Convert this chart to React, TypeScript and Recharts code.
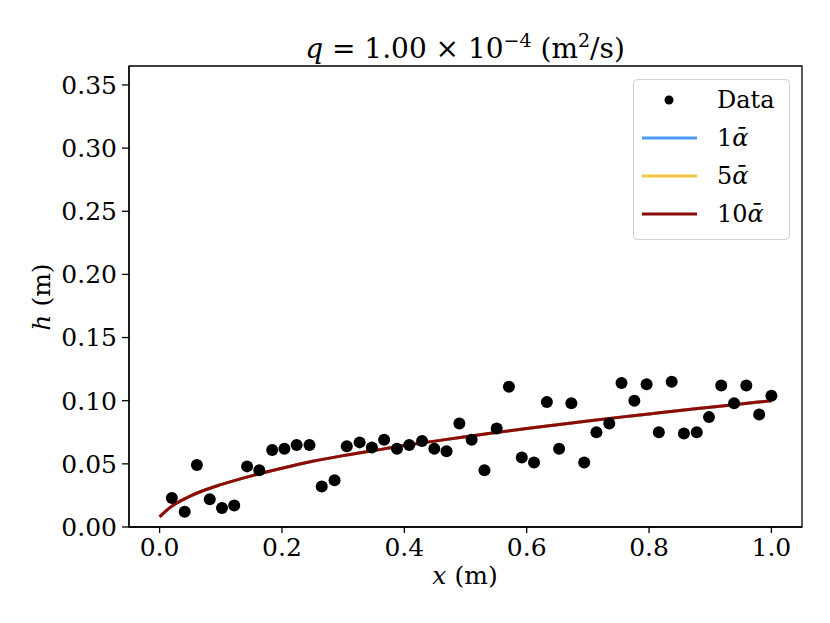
import {
  ComposedChart,
  Scatter,
  Line,
  XAxis,
  YAxis,
  ReferenceArea,
} from 'recharts';

const dataX = [
  0.02, 0.041, 0.061, 0.082, 0.102, 0.122, 0.143, 0.163, 0.184, 0.204,
  0.224, 0.245, 0.265, 0.286, 0.306, 0.327, 0.347, 0.367, 0.388, 0.408,
  0.429, 0.449, 0.469, 0.49, 0.51, 0.531, 0.551, 0.571, 0.592, 0.612,
  0.633, 0.653, 0.673, 0.694, 0.714, 0.735, 0.755, 0.776, 0.796, 0.816,
  0.837, 0.857, 0.878, 0.898, 0.918, 0.939, 0.959, 0.98, 1.0,
];
const dataH = [
  0.023, 0.012, 0.049, 0.022, 0.015, 0.017, 0.048, 0.045, 0.061, 0.062,
  0.065, 0.065, 0.032, 0.037, 0.064, 0.067, 0.063, 0.069, 0.062, 0.065,
  0.068, 0.062, 0.06, 0.082, 0.069, 0.045, 0.078, 0.111, 0.055, 0.051,
  0.099, 0.062, 0.098, 0.051, 0.075, 0.082, 0.114, 0.1, 0.113, 0.075,
  0.115, 0.074, 0.075, 0.087, 0.112, 0.098, 0.112, 0.089, 0.104,
];

const modelX = [
  0, 0.01, 0.02, 0.03, 0.05, 0.075, 0.1, 0.15, 0.2, 0.25, 0.3, 0.35, 0.4,
  0.45, 0.5, 0.55, 0.6, 0.65, 0.7, 0.75, 0.8, 0.85, 0.9, 0.95, 1.0,
];
const model1 = [
  0.008, 0.0125, 0.0165, 0.0195, 0.0245, 0.0295, 0.0335, 0.0405, 0.0465, 0.052,
  0.0565, 0.0605, 0.0645, 0.068, 0.0715, 0.0748, 0.078, 0.081, 0.084, 0.0868,
  0.0895, 0.0922, 0.0948, 0.0974, 0.1,
];
const model5 = model1;
const model10 = model1;

const xTicks = [0, 0.2, 0.4, 0.6, 0.8, 1.0];
const yTicks = [0, 0.05, 0.1, 0.15, 0.2, 0.25, 0.3, 0.35];

const points = dataX.map((x, i) => ({ x, h: dataH[i] }));
const curves = modelX.map((x, i) => ({
  x,
  h1: model1[i],
  h5: model5[i],
  h10: model10[i],
}));

const FONT = "'DejaVu Serif', serif";
const BLUE = '#4c9bf5';
const YELLOW = '#f2c744';
const RED = '#8b0a0a';

const Dot = (props: any) => <circle cx={props.cx} cy={props.cy} r={6} fill="#000" />;

const LegendBox = () => (
  <svg width={157} height={161} style={{ position: 'absolute', left: 633, top: 79 }}>
    <rect x={0.5} y={0.5} width={156} height={160} rx={4} fill="#fff" fillOpacity={0.8} stroke="#d0d0d0" />
    <circle cx={36} cy={21} r={4.5} fill="#000" />
    <text x={84} y={29} fontSize={24} fontFamily={FONT}>Data</text>
    {[
      { c: BLUE, n: '1' },
      { c: YELLOW, n: '5' },
      { c: RED, n: '10' },
    ].map((it, i) => (
      <g key={it.n}>
        <line x1={9} x2={64} y1={59 + i * 38} y2={59 + i * 38} stroke={it.c} strokeWidth={3} />
        <text x={84} y={67 + i * 38} fontSize={24} fontFamily={FONT}>
          {it.n}
          <tspan fontStyle="italic">ᾱ</tspan>
        </text>
      </g>
    ))}
  </svg>
);

export default function App() {
  return (
    <div style={{ position: 'absolute', left: 0, top: 0, width: 830, height: 623, background: '#fff' }}>
      <ComposedChart
        width={830}
        height={623}
        margin={{ top: 66, right: 28, bottom: 0, left: 0 }}
      >
        <XAxis
          type="number"
          dataKey="x"
          domain={[-0.05, 1.05]}
          ticks={xTicks}
          tickFormatter={(v: number) => v.toFixed(1)}
          allowDataOverflow
          height={96}
          tickSize={6}
          tickMargin={5}
          stroke="#000"
          strokeWidth={1.3}
          tick={{ fill: '#000', fontSize: 25, fontFamily: FONT }}
        />
        <YAxis
          type="number"
          dataKey="h"
          domain={[0, 0.365]}
          ticks={yTicks}
          tickFormatter={(v: number) => v.toFixed(2)}
          allowDataOverflow
          width={129}
          tickSize={7}
          tickMargin={5}
          stroke="#000"
          strokeWidth={1.3}
          tick={{ fill: '#000', fontSize: 25, fontFamily: FONT }}
        />
        <ReferenceArea x1={-0.05} x2={1.05} y1={0} y2={0.365} fill="none" stroke="#000" strokeWidth={1.3} />
        <Scatter data={points} dataKey="h" fill="#000" shape={Dot} isAnimationActive={false} />
        <Line data={curves} dataKey="h1" type="monotone" stroke={BLUE} strokeWidth={3} dot={false} isAnimationActive={false} />
        <Line data={curves} dataKey="h5" type="monotone" stroke={YELLOW} strokeWidth={3} dot={false} isAnimationActive={false} />
        <Line data={curves} dataKey="h10" type="monotone" stroke={RED} strokeWidth={3} dot={false} isAnimationActive={false} />
      </ComposedChart>
      <LegendBox />
      <svg
        width={830}
        height={623}
        style={{ position: 'absolute', left: 0, top: 0, pointerEvents: 'none' }}
        fontFamily={FONT}
      >
        <text x={465} y={58} fontSize={28} textAnchor="middle">
          <tspan fontStyle="italic">q</tspan>
          <tspan> = 1.00 × 10</tspan>
          <tspan fontSize={19} dy={-11}>−4</tspan>
          <tspan dy={11}> (m</tspan>
          <tspan fontSize={19} dy={-11}>2</tspan>
          <tspan dy={11}>/s)</tspan>
        </text>
        <text x={465} y={584} fontSize={25} textAnchor="middle">
          <tspan fontStyle="italic">x</tspan> (m)
        </text>
        <text transform="translate(50, 297) rotate(-90)" fontSize={25} textAnchor="middle">
          <tspan fontStyle="italic">h</tspan> (m)
        </text>
      </svg>
    </div>
  );
}
